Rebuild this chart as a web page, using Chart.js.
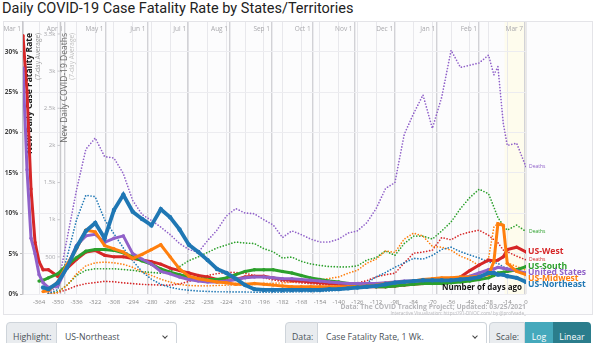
<!DOCTYPE html>
<html>
<head>
<meta charset="utf-8">
<script src="https://cdn.jsdelivr.net/npm/chart.js@4.4.1/dist/chart.umd.min.js"></script>
<style>
  * { box-sizing: border-box; }
  body { margin: 0; width: 600px; height: 343px; overflow: hidden; background: #fff; position: relative; font-family: Roboto, sans-serif; }
  #title { position: absolute; left: 2px; top: 0; font-size: 14.5px; line-height: 18px; color: #222; white-space: nowrap; }
  #card { position: absolute; left: 3px; top: 21px; width: 590px; height: 294px; border: 1px solid #e4e4e8; background: #fcfcfd; }
  #chart { position: absolute; left: 0; top: 0; }
  .grp { position: absolute; top: 322px; height: 30px; display: flex; font-family: 'Open Sans', sans-serif; font-size: 8.7px; color: #495057; white-space: nowrap; }
  .lab { background: #e9ecef; border: 1px solid #ced4da; border-radius: 4px 0 0 4px; display: flex; align-items: center; padding-left: 6px; }
  .sel { position: relative; background: #fff; border: 1px solid #ced4da; border-left: none; border-radius: 0 4px 4px 0; display: flex; align-items: center; padding-left: 8px; }
  .chev { position: absolute; right: 9px; top: 11px; width: 4px; height: 4px; border-right: 1.2px solid #444; border-bottom: 1.2px solid #444; transform: rotate(45deg); }
  .btn { display: flex; align-items: center; justify-content: center; color: #fff; }
</style>
</head>
<body>
<div id="title">Daily COVID-19 Case Fatality Rate by States/Territories</div>
<div id="card"></div>
<canvas id="chart" width="600" height="320"></canvas>

<div class="grp" style="left:6px">
  <div class="lab" style="width:51px">Highlight:</div>
  <div class="sel" style="width:120px">US-Northeast<span class="chev"></span></div>
</div>
<div class="grp" style="left:285px">
  <div class="lab" style="width:33px">Data:</div>
  <div class="sel" style="width:169px">Case Fatality Rate, 1 Wk.<span class="chev"></span></div>
</div>
<div class="grp" style="left:489px">
  <div class="lab" style="width:36px">Scale:</div>
  <div class="btn" style="width:28px;background:#45a9bc">Log</div>
  <div class="btn" style="width:38px;background:#2b7d8c;border-radius:0 4px 4px 0">Linear</div>
</div>

<script>
// jours avant le 7 mars 2021
const days = [-376, -373, -370, -367, -364, -361, -357, -350, -343, -336,
  -329, -322, -315, -308, -301, -294, -287, -280, -273, -266,
  -259, -252, -245, -238, -231, -224, -217, -210, -203, -196,
  -189, -182, -175, -168, -161, -154, -147, -140, -133, -126,
  -119, -112, -105, -98, -91, -84, -77, -70, -63, -56,
  -49, -42, -35, -28, -24, -21, -17, -14, -7, 0];

// taux de létalité (%), moyenne 7 jours
const cfrWest = [32, 25, 13, 6.4, 4.0, 3.0, 3.0, 2.2, 3.2, 4.3,
  5.2, 5.4, 4.8, 4.6, 4.6, 4.4, 4.2, 4.0, 3.7, 3.2,
  2.9, 2.6, 2.3, 2.1, 1.8, 1.7, 1.8, 2.1, 2.2, 2.2,
  2.0, 1.8, 1.7, 1.6, 1.5, 1.4, 1.3, 1.2, 1.1, 1.0,
  0.9, 0.9, 0.9, 1.0, 1.1, 1.2, 1.3, 1.4, 1.5, 1.7,
  2.1, 2.9, 3.6, 4.2, 4.1, 4.2, 4.6, 5.5, 5.8, 5.2];
const cfrSouth = [null, null, null, null, 1.6, 1.7, 2.0, 2.5, 3.6, 4.5,
  5.3, 5.5, 5.5, 5.4, 5.1, 4.6, 4.1, 3.7, 3.1, 2.7,
  2.4, 2.1, 1.9, 1.8, 1.8, 2.0, 2.4, 2.8, 3.0, 3.0,
  3.0, 2.8, 2.6, 2.3, 2.0, 1.8, 1.6, 1.5, 1.3, 1.1,
  1.0, 0.9, 0.9, 1.0, 1.1, 1.2, 1.3, 1.3, 1.3, 1.4,
  1.5, 1.6, 1.8, 2.0, 2.3, 2.6, 2.7, 2.8, 3.0, 3.4];
const cfrUS = [28, 15.4, 6.9, 5.0, 2.4, 1.4, 0.8, 1.0, 3.4, 6.0,
  7.2, 7.4, 6.4, 6.9, 7.2, 5.0, 4.3, 3.7, 2.8, 2.5,
  2.1, 1.8, 1.6, 1.5, 1.5, 1.6, 1.8, 2.0, 2.1, 2.1,
  2.0, 1.9, 1.9, 1.8, 1.7, 1.6, 1.5, 1.4, 1.3, 1.3,
  1.3, 1.3, 1.4, 1.5, 1.6, 1.6, 1.7, 1.8, 1.8, 1.9,
  2.0, 2.2, 2.6, 3.0, 3.1, 3.3, 3.2, 3.1, 2.9, 2.6];
const cfrMidwest = [null, null, null, null, null, 0.3, 0.4, 1.5, 3.7, 5.6,
  7.9, 7.7, 6.0, 5.6, 5.2, 4.4, 4.9, 5.5, 6.1, 4.6,
  3.1, 2.2, 1.9, 1.7, 1.5, 1.4, 1.2, 1.2, 1.3, 1.2,
  1.1, 1.0, 0.9, 0.9, 0.9, 0.9, 0.9, 0.9, 0.9, 0.9,
  1.0, 1.1, 1.3, 1.4, 1.5, 1.6, 1.8, 1.9, 2.0, 2.0,
  2.1, 2.1, 2.2, 2.4, 4.0, 8.7, 8.5, 3.8, 2.8, 2.4];
const cfrNortheast = [null, null, null, null, null, 0.8, 0.6, 1.4, 3.3, 5.8,
  7.8, 8.8, 6.9, 10.4, 12.3, 10.2, 9.3, 8.5, 10.5, 9.5,
  8.0, 6.1, 5.2, 4.2, 3.1, 2.6, 1.9, 1.1, 0.6, 0.5,
  0.5, 0.5, 0.5, 0.5, 0.5, 0.5, 0.6, 0.6, 0.7, 0.8,
  0.9, 1.0, 1.2, 1.4, 1.5, 1.6, 1.7, 1.7, 1.7, 1.7,
  1.8, 1.9, 2.1, 2.6, 2.6, 2.4, 2.4, 2.2, 2.0, 1.5];

// nouveaux décès quotidiens, moyenne 7 jours
const deathsUS = [null, null, null, null, null, null, 20, 100, 750, 1400,
  1950, 2100, 1850, 1830, 1620, 1260, 1070, 990, 900, 800,
  680, 600, 560, 720, 860, 1050, 1150, 1090, 1080, 1000,
  930, 760, 850, 800, 740, 700, 700, 740, 820, 850,
  960, 1150, 1420, 1500, 2150, 2430, 2680, 2230, 2650, 3280,
  3050, 3080, 3110, 3215, 2950, 3060, 2300, 2000, 2030, 1710];
const deathsSouth = [null, null, null, null, null, null, 5, 30, 120, 250,
  320, 340, 340, 340, 330, 320, 300, 290, 280, 310,
  370, 450, 500, 560, 620, 660, 700, 686, 680, 610,
  570, 484, 498, 440, 405, 385, 370, 365, 365, 380,
  457, 490, 580, 520, 680, 780, 780, 740, 850, 970,
  1150, 1300, 1410, 1350, 1170, 1030, 920, 860, 928, 840];
const deathsWest = [null, null, null, null, null, null, 5, 20, 60, 110,
  140, 155, 170, 165, 150, 140, 130, 125, 120, 120,
  135, 170, 210, 250, 275, 290, 290, 280, 250, 220,
  190, 170, 160, 150, 140, 130, 125, 125, 140, 150,
  180, 230, 260, 280, 417, 550, 565, 590, 760, 730,
  800, 834, 860, 790, 730, 690, 592, 570, 510, 460];
const deathsMidwest = [null, null, null, null, null, null, 3, 20, 120, 270,
  380, 420, 430, 420, 400, 360, 300, 250, 200, 160,
  130, 115, 110, 110, 115, 120, 125, 120, 130, 140,
  145, 150, 160, 170, 180, 190, 210, 230, 280, 320,
  415, 470, 580, 560, 740, 820, 780, 640, 630, 590,
  510, 460, 380, 480, 900, 950, 950, 420, 370, 320];
const deathsNortheast = [null, null, null, null, null, null, 5, 60, 500, 1000,
  1330, 1310, 1000, 810, 620, 450, 300, 200, 130, 90,
  65, 50, 40, 35, 30, 30, 28, 28, 25, 25,
  25, 25, 28, 30, 30, 35, 40, 50, 70, 100,
  150, 230, 290, 360, 420, 480, 470, 520, 600, 630,
  570, 525, 485, 430, 420, 415, 365, 350, 320, 255];

// graduations
const xTicks = [-364, -350, -336, -322, -308, -294, -280, -266, -252, -238, -224, -210, -196,
  -182, -168, -154, -140, -126, -112, -98, -84, -70, -56, -42, -28, -14, 0];
const pctTicks = [0, 5, 10, 15, 20, 25, 30];
const deathTicks = [500, 1000, 1500, 2000, 2500, 3000, 3500];
const monthLabels = ['Mar 1', 'Apr 1', 'May 1', 'Jun 1', 'Jul 1', 'Aug 1', 'Sep 1',
  'Oct 1', 'Nov 1', 'Dec 1', 'Jan 1', 'Feb 1', 'Mar 7'];
const monthDays = [-371, -340, -310, -279, -249, -218, -187, -157, -126, -96, -65, -34, 0];
const deathAxisDay = -348;
const recentStart = -16;

const BLUE = '#1f77b4', ORANGE = '#ff7f0e', GREEN = '#2ca02c', RED = '#d62728', PURPLE = '#9061c9';

function pts(vals) {
  return days.map((d, i) => ({ x: d, y: vals[i] }));
}

function cfrLine(label, vals, color, hl) {
  return {
    kind: 'cfr', label: label, data: pts(vals), yAxisID: 'y',
    borderColor: color, backgroundColor: color,
    borderWidth: hl ? 3.8 : 3, pointRadius: hl ? 2.2 : 1.7,
    pointBorderWidth: 0, pointBackgroundColor: color, tension: 0
  };
}

function deathLine(label, vals, color, tagged) {
  return {
    kind: 'deaths', tagged: tagged, label: label, data: pts(vals), yAxisID: 'y2',
    borderColor: color, borderWidth: 1.7, borderDash: [0, 3], borderCapStyle: 'round',
    pointRadius: 0, tension: 0
  };
}

function fmtK(v) {
  return v >= 1000 ? (v / 1000) + 'k' : String(v);
}

const decor = {
  id: 'decor',
  beforeDraw(chart) {
    const { ctx, chartArea: a, scales } = chart;
    const x0 = scales.x.getPixelForValue(recentStart);
    ctx.save();
    ctx.fillStyle = 'rgba(255, 252, 222, 0.5)';
    ctx.fillRect(x0, a.top, a.right - x0, a.bottom - a.top);
    ctx.restore();
  },
  beforeDatasetsDraw(chart) {
    const { ctx, chartArea: a, scales } = chart;
    ctx.save();
    // mois en haut
    ctx.font = "6.5px 'Open Sans'";
    ctx.fillStyle = '#a9a9ad';
    ctx.textAlign = 'right';
    ctx.textBaseline = 'middle';
    monthDays.forEach((d, i) => {
      ctx.fillText(monthLabels[i], scales.x2.getPixelForValue(d) - 2, a.top + 7);
    });

    // axe des décès
    const ax = scales.x.getPixelForValue(deathAxisDay);
    ctx.strokeStyle = '#c9c9cc';
    ctx.lineWidth = 1.5;
    ctx.beginPath();
    ctx.moveTo(ax, a.top);
    ctx.lineTo(ax, a.bottom);
    ctx.stroke();
    ctx.lineWidth = 1;
    ctx.font = "6px 'Open Sans'";
    ctx.fillStyle = '#a8a8ac';
    deathTicks.forEach(v => {
      const yy = scales.y2.getPixelForValue(v);
      ctx.beginPath();
      ctx.moveTo(ax - 3, yy);
      ctx.lineTo(ax, yy);
      ctx.stroke();
      ctx.fillText(fmtK(v), ax - 5, yy);
    });

    // titres des axes
    const vtext = (txt, x, font, color) => {
      ctx.save();
      ctx.translate(x, a.top + 11);
      ctx.rotate(-Math.PI / 2);
      ctx.font = font;
      ctx.fillStyle = color;
      ctx.textAlign = 'right';
      ctx.textBaseline = 'middle';
      ctx.fillText(txt, 0, 0);
      ctx.restore();
    };
    vtext('New Daily Case Fatality Rate', a.left + 7, "bold 8.5px 'Open Sans'", '#1a1a1a');
    vtext('(7-day Average)', a.left + 15, "6.5px 'Open Sans'", '#9a9a9a');
    vtext('New Daily COVID-19 Deaths', ax + 4, "8.5px 'Open Sans'", '#6a6a6a');
    vtext('(7-day Average)', ax + 12, "6.5px 'Open Sans'", '#bdbdbd');
    ctx.restore();
  },
  afterDatasetsDraw(chart) {
    const { ctx, chartArea: a, scales } = chart;
    ctx.save();
    ctx.textBaseline = 'middle';

    ctx.font = "bold 8px 'Open Sans'";
    ctx.fillStyle = '#111';
    ctx.textAlign = 'right';
    ctx.fillText('Number of days ago', a.right - 4, a.bottom - 6);

    ctx.font = "bold 6.8px 'Open Sans'";
    ctx.fillStyle = '#b5b5b8';
    ctx.fillText('Data: The COVID Tracking Project; Updated: 03/25/2021', a.right, a.bottom + 13);
    ctx.font = "4.6px 'Open Sans'";
    ctx.fillStyle = '#b8b8bb';
    ctx.fillText('Interactive Visualization: https://91-DIVOC.com/ by @profwade_', a.right, a.bottom + 20);

    // étiquettes des séries
    ctx.textAlign = 'left';
    const items = chart.data.datasets.filter(ds => ds.kind === 'cfr').map(ds => ({
      text: ds.label, color: ds.borderColor,
      y: scales.y.getPixelForValue(ds.data[ds.data.length - 1].y)
    })).sort((p, q) => p.y - q.y);
    for (let i = 1; i < items.length; i++) {
      items[i].y = Math.max(items[i].y, items[i - 1].y + 5.8);
    }
    ctx.font = "bold 8.6px 'Open Sans'";
    items.forEach(it => {
      ctx.fillStyle = it.color;
      ctx.fillText(it.text, a.right + 2, it.y);
    });

    ctx.font = "5px 'Open Sans'";
    chart.data.datasets.filter(ds => ds.kind === 'deaths' && ds.tagged).forEach(ds => {
      ctx.fillStyle = ds.borderColor;
      ctx.fillText('Deaths', a.right + 3, scales.y2.getPixelForValue(ds.data[ds.data.length - 1].y));
    });
    ctx.restore();
  }
};

Chart.defaults.font.family = "'Open Sans', sans-serif";

new Chart(document.getElementById('chart').getContext('2d'), {
  type: 'line',
  data: {
    datasets: [
      cfrLine('US-Northeast', cfrNortheast, BLUE, true),
      cfrLine('US-Midwest', cfrMidwest, ORANGE),
      cfrLine('United States', cfrUS, PURPLE),
      cfrLine('US-South', cfrSouth, GREEN),
      cfrLine('US-West', cfrWest, RED),
      deathLine('Deaths US-Northeast', deathsNortheast, BLUE, false),
      deathLine('Deaths US-Midwest', deathsMidwest, ORANGE, false),
      deathLine('Deaths United States', deathsUS, PURPLE, true),
      deathLine('Deaths US-South', deathsSouth, GREEN, true),
      deathLine('Deaths US-West', deathsWest, RED, true)
    ]
  },
  options: {
    responsive: false,
    animation: false,
    layout: { padding: { top: 22, right: 74, bottom: 12, left: 0 } },
    plugins: { legend: { display: false }, tooltip: { enabled: false } },
    scales: {
      x: {
        type: 'linear', min: -376, max: 0,
        afterBuildTicks: s => { s.ticks = xTicks.map(v => ({ value: v })); },
        afterFit: s => { s.height = 14; },
        grid: { color: '#e8e8ec', drawTicks: false },
        border: { display: false },
        ticks: { font: { size: 6 }, color: '#8a8a8a', padding: 5, maxRotation: 0, autoSkip: false }
      },
      x2: {
        type: 'linear', position: 'top', min: -371, max: 0.7,
        afterBuildTicks: s => { s.ticks = monthDays.map(v => ({ value: v })); },
        grid: { color: '#d2d2d6', lineWidth: 1.4, drawTicks: false },
        border: { display: false },
        ticks: { display: false }
      },
      y: {
        min: 0, max: 33.7,
        afterBuildTicks: s => { s.ticks = pctTicks.map(v => ({ value: v })); },
        afterFit: s => { s.width = 23; },
        grid: { color: '#ececf0', tickLength: 3, tickColor: '#bbb' },
        border: { color: '#c8c8cc', width: 1.5 },
        ticks: { callback: v => v + '%', font: { size: 6.5, weight: 'bold' }, color: '#444', padding: 2 }
      },
      y2: { display: false, min: 0, max: 3661 }
    }
  },
  plugins: [decor]
});
</script>
</body>
</html>
